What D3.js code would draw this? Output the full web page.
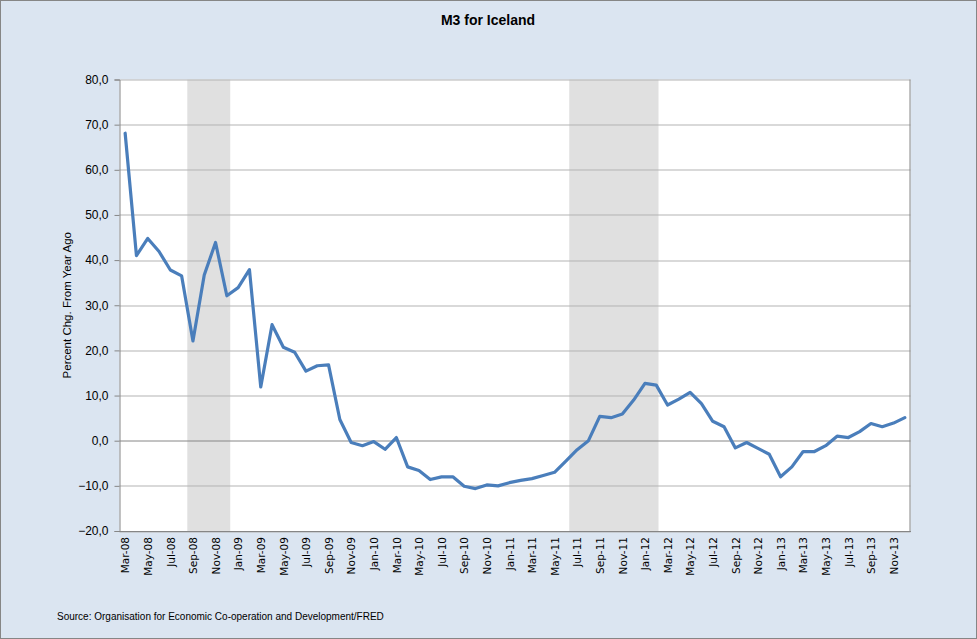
<!DOCTYPE html>
<html lang="en">
<head>
    <meta charset="UTF-8">
    <title>M3 for Iceland</title>
    <script src="https://cdnjs.cloudflare.com/ajax/libs/d3/7.8.5/d3.min.js"></script>
    <style>
        body {
            margin: 0;
            overflow: hidden;
            background-color: #fff;
            font-family: "Liberation Sans", Arial, sans-serif;
        }
        #chart svg {
            display: block;
        }
    </style>
</head>
<body>
    <div id="chart"></div>

    <script>
        // monthly series, Mar-08 .. Dec-13
        const months = [
            "Mar-08", "Apr-08", "May-08", "Jun-08", "Jul-08", "Aug-08", "Sep-08", "Oct-08", "Nov-08", "Dec-08",
            "Jan-09", "Feb-09", "Mar-09", "Apr-09", "May-09", "Jun-09", "Jul-09", "Aug-09", "Sep-09", "Oct-09", "Nov-09", "Dec-09",
            "Jan-10", "Feb-10", "Mar-10", "Apr-10", "May-10", "Jun-10", "Jul-10", "Aug-10", "Sep-10", "Oct-10", "Nov-10", "Dec-10",
            "Jan-11", "Feb-11", "Mar-11", "Apr-11", "May-11", "Jun-11", "Jul-11", "Aug-11", "Sep-11", "Oct-11", "Nov-11", "Dec-11",
            "Jan-12", "Feb-12", "Mar-12", "Apr-12", "May-12", "Jun-12", "Jul-12", "Aug-12", "Sep-12", "Oct-12", "Nov-12", "Dec-12",
            "Jan-13", "Feb-13", "Mar-13", "Apr-13", "May-13", "Jun-13", "Jul-13", "Aug-13", "Sep-13", "Oct-13", "Nov-13", "Dec-13"
        ];

        const m3Change = [
            68.1, 41.0, 44.8, 41.9, 37.8, 36.5, 22.1, 36.7, 43.9, 32.1,
            33.9, 37.9, 11.9, 25.7, 20.7, 19.6, 15.4, 16.6, 16.8, 4.7, -0.4, -1.1,
            -0.2, -1.9, 0.7, -5.8, -6.6, -8.6, -8.0, -8.0, -10.1, -10.6, -9.8, -10.0,
            -9.3, -8.8, -8.4, -7.7, -7.0, -4.5, -2.0, 0.0, 5.4, 5.1, 5.9, 9.0,
            12.7, 12.3, 7.9, 9.2, 10.7, 8.2, 4.3, 3.1, -1.6, -0.4, -1.7, -3.0,
            -8.0, -5.8, -2.4, -2.4, -1.1, 1.0, 0.7, 2.0, 3.8, 3.1, 3.9, 5.1
        ];

        // shaded periods, in month offsets from Mar-08
        const recessions = [
            [6.0, 9.8],
            [39.8, 47.7]
        ];

        const yTicks = [-20, -10, 0, 10, 20, 30, 40, 50, 60, 70, 80];

        const width = 977;
        const height = 639;
        const margin = { top: 79.5, right: 66.5, bottom: 108, left: 119.5 };
        const plotW = width - margin.left - margin.right;
        const plotH = height - margin.top - margin.bottom;

        const svg = d3.select("#chart")
            .append("svg")
            .attr("width", width)
            .attr("height", height);

        // chart area background and border
        svg.append("rect")
            .attr("x", 0.5)
            .attr("y", 0.5)
            .attr("width", width - 1)
            .attr("height", height - 1)
            .attr("fill", "#dbe5f1")
            .attr("stroke", "#868686");

        svg.append("text")
            .attr("x", 488)
            .attr("y", 25)
            .attr("text-anchor", "middle")
            .attr("font-size", "14px")
            .attr("font-weight", "bold")
            .attr("fill", "#000")
            .text("M3 for Iceland");

        const g = svg.append("g")
            .attr("transform", `translate(${margin.left},${margin.top})`);

        const x = d3.scaleLinear()
            .domain([0, months.length])
            .range([0, plotW]);

        const y = d3.scaleLinear()
            .domain([-20, 80])
            .range([plotH, 0]);

        g.append("rect")
            .attr("width", plotW)
            .attr("height", plotH)
            .attr("fill", "#fff");

        g.selectAll(".recession")
            .data(recessions)
            .enter()
            .append("rect")
            .attr("class", "recession")
            .attr("x", d => x(d[0]))
            .attr("y", 0)
            .attr("width", d => x(d[1]) - x(d[0]))
            .attr("height", plotH)
            .attr("fill", "#e0e0e0");

        // gridlines
        g.selectAll(".grid")
            .data(yTicks)
            .enter()
            .append("line")
            .attr("class", "grid")
            .attr("x1", 0)
            .attr("x2", plotW)
            .attr("y1", d => Math.round(y(d)) + 0.5)
            .attr("y2", d => Math.round(y(d)) + 0.5)
            .attr("stroke", d => d === 0 ? "#868686" : "#b3b3b3")
            .attr("stroke-width", 1);

        // right border
        g.append("line")
            .attr("x1", Math.round(plotW) - 0.5)
            .attr("x2", Math.round(plotW) - 0.5)
            .attr("y1", 0)
            .attr("y2", plotH)
            .attr("stroke", "#868686");

        // y axis
        const yAxis = g.append("g")
            .call(d3.axisLeft(y)
                .tickValues(yTicks)
                .tickSize(5)
                .tickPadding(6)
                .tickFormat(d => d3.format(".1f")(d).replace(".", ",")));

        yAxis.selectAll("path, line").attr("stroke", "#868686");
        yAxis.selectAll("text")
            .attr("font-family", "Liberation Sans, Arial, sans-serif")
            .attr("font-size", "12px")
            .attr("fill", "#000");

        // x axis
        const xAxis = g.append("g")
            .attr("transform", `translate(0,${plotH})`)
            .call(d3.axisBottom(x)
                .tickValues(d3.range(0, months.length, 2).map(i => i + 0.5))
                .tickSize(0)
                .tickFormat(d => months[Math.floor(d)]));

        xAxis.select(".domain").attr("stroke", "#868686");
        xAxis.selectAll("text")
            .attr("font-family", "DejaVu Sans, Verdana, sans-serif")
            .attr("font-size", "10.5px")
            .attr("fill", "#000")
            .attr("text-anchor", "end")
            .attr("dy", "0.35em")
            .attr("transform", "translate(0,6) rotate(-90)")
            .attr("x", 0)
            .attr("y", 0);

        // the series
        const line = d3.line()
            .x((d, i) => x(i + 0.5))
            .y(d => y(d));

        g.append("path")
            .datum(m3Change)
            .attr("fill", "none")
            .attr("stroke", "#4a7ebb")
            .attr("stroke-width", 3.2)
            .attr("stroke-linejoin", "round")
            .attr("stroke-linecap", "round")
            .attr("d", line);

        svg.append("text")
            .attr("transform", `translate(71,${margin.top + plotH / 2}) rotate(-90)`)
            .attr("text-anchor", "middle")
            .attr("font-size", "11.5px")
            .attr("fill", "#000")
            .text("Percent Chg. From Year Ago");

        svg.append("text")
            .attr("x", 57)
            .attr("y", 620)
            .attr("font-size", "10px")
            .attr("fill", "#000")
            .text("Source: Organisation for Economic Co-operation and Development/FRED");
    </script>
</body>
</html>
